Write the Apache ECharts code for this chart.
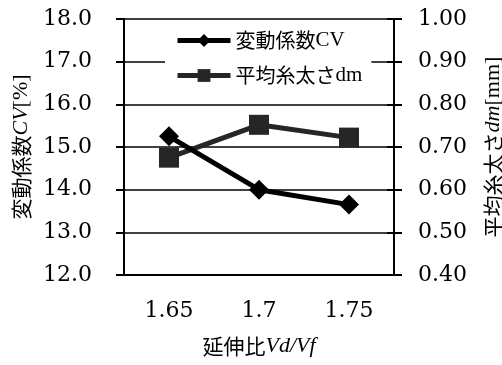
<!DOCTYPE html>
<html>
<head>
<meta charset="utf-8">
<script src="https://cdn.jsdelivr.net/npm/echarts@6/dist/echarts.min.js"></script>
<style>html,body{margin:0;padding:0;background:#fff}#c{width:502px;height:365px}</style>
</head>
<body>
<div id="c"></div>
<script>
const categories = ['1.65', '1.7', '1.75'];
const cvValues = [15.25, 14.0, 13.65];
const dmValues = [0.675, 0.752, 0.722];
const cvName = '変動係数CV';
const dmName = '平均糸太さdm';

const serif = '"DejaVu Serif", serif';
const cjk = '"Noto Sans CJK JP", sans-serif';
const lat = '"Liberation Serif", serif';

const chart = echarts.init(document.getElementById('c'), null, {renderer: 'canvas'});
const labelStyle = {color: '#000', fontFamily: serif, fontSize: 22};
chart.setOption({
  animation: false,
  backgroundColor: '#fff',
  grid: {left: 124, right: 108, top: 19, bottom: 90, containLabel: false, outerBoundsMode: 'none'},
  legend: {
    left: 165, top: 24, orient: 'vertical',
    backgroundColor: '#fff',
    padding: [6, 9, 6, 10],
    itemWidth: 53, itemHeight: 16, itemGap: 14,
    lineStyle: {width: 5},
    textStyle: {
      color: '#000', fontSize: 20, lineHeight: 20,
      fontFamily: lat + ', ' + cjk,
      rich: {
        j: {fontFamily: cjk, fontSize: 20, color: '#000'},
        l: {fontFamily: lat, fontSize: 21, color: '#000'}
      }
    },
    formatter: function (n) {
      const m = n.match(/^(.*?)([A-Za-z]+)$/);
      return '{j|' + m[1] + '}{l|' + m[2] + '}';
    },
    data: [cvName, dmName]
  },
  xAxis: {
    type: 'category', data: categories, boundaryGap: true,
    axisLine: {lineStyle: {color: '#000', width: 2}},
    axisTick: {inside: true, alignWithLabel: true, length: 6, lineStyle: {color: '#000', width: 2}},
    axisLabel: Object.assign({margin: 25}, labelStyle),
    name: '{j|延伸比}{i|Vd/Vf}', nameLocation: 'middle', nameGap: 60,
    nameTextStyle: {
      rich: {
        j: {fontFamily: cjk, fontSize: 21, color: '#000'},
        i: {fontFamily: lat, fontStyle: 'italic', fontSize: 22, color: '#000'}
      }
    }
  },
  yAxis: [
    {
      type: 'value', position: 'left', min: 12, max: 18, interval: 1,
      axisLine: {show: true, lineStyle: {color: '#000', width: 2}},
      axisTick: {show: true, length: 8, lineStyle: {color: '#000', width: 2}},
      splitLine: {show: true, lineStyle: {color: '#000', width: 1.5}},
      axisLabel: Object.assign({margin: 32, formatter: v => v.toFixed(1)}, labelStyle),
      name: '{j|変動係数}{i|CV}{l|[%]}', nameLocation: 'middle', nameGap: 92, nameRotate: 90,
      nameTextStyle: {
        rich: {
          j: {fontFamily: cjk, fontSize: 21, color: '#000'},
          i: {fontFamily: lat, fontStyle: 'italic', fontSize: 22, color: '#000'},
          l: {fontFamily: lat, fontSize: 22, color: '#000'}
        }
      }
    },
    {
      type: 'value', position: 'right', min: 0.4, max: 1.0, interval: 0.1,
      axisLine: {show: true, lineStyle: {color: '#000', width: 2}},
      axisTick: {show: true, length: 8, lineStyle: {color: '#000', width: 2}},
      splitLine: {show: false},
      axisLabel: Object.assign({margin: 24, formatter: v => v.toFixed(2)}, labelStyle),
      name: '{j|平均糸太さ}{i|dm}{l|[mm]}', nameLocation: 'middle', nameGap: 88, nameRotate: 90,
      nameTextStyle: {
        rich: {
          j: {fontFamily: cjk, fontSize: 21, color: '#000'},
          i: {fontFamily: lat, fontStyle: 'italic', fontSize: 22, color: '#000'},
          l: {fontFamily: lat, fontSize: 22, color: '#000'}
        }
      }
    },
    {
      type: 'value', position: 'right', min: 0.4, max: 1.0, interval: 0.1,
      axisLine: {show: false},
      axisTick: {show: true, inside: true, length: 7, lineStyle: {color: '#000', width: 2}},
      splitLine: {show: false},
      axisLabel: {show: false}
    }
  ],
  series: [
    {
      name: cvName, type: 'line', yAxisIndex: 0, data: cvValues,
      symbol: 'diamond', symbolSize: 20, z: 3,
      lineStyle: {color: '#000', width: 5},
      itemStyle: {color: '#000'}
    },
    {
      name: dmName, type: 'line', yAxisIndex: 1, data: dmValues,
      symbol: 'rect', symbolSize: 20, z: 2,
      lineStyle: {color: '#262626', width: 5},
      itemStyle: {color: '#262626'}
    }
  ]
});
</script>
</body>
</html>
